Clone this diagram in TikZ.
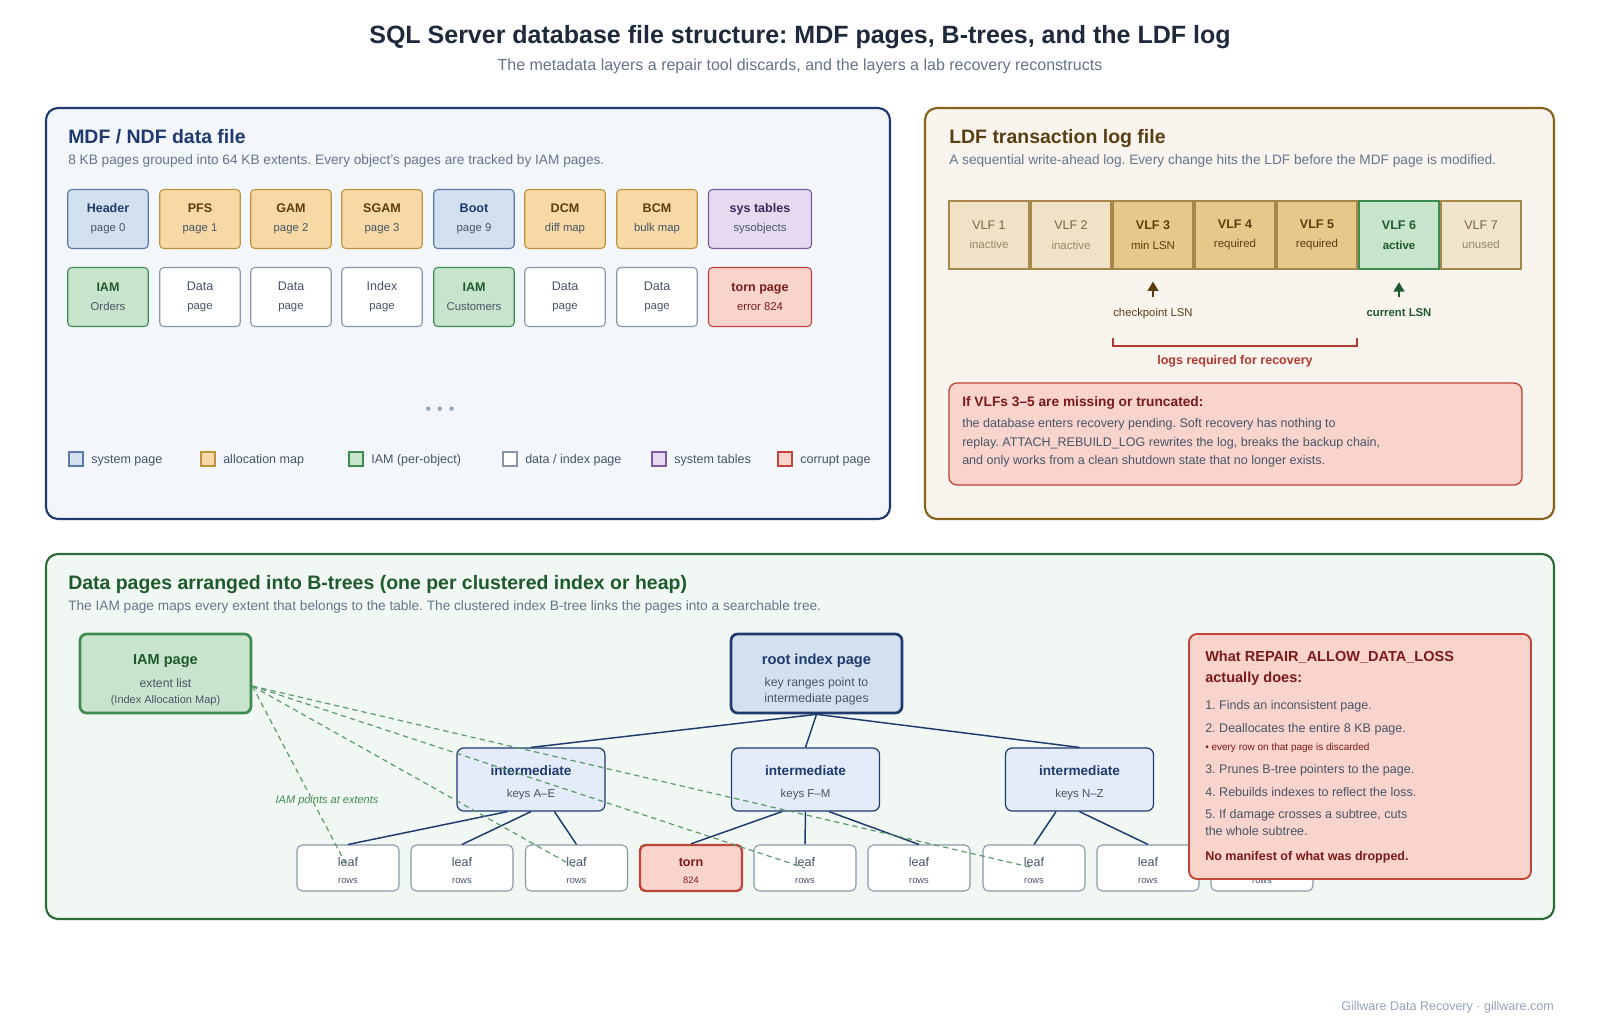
\documentclass[tikz,border=0pt]{standalone}
\usepackage{fontspec}
\setmainfont{Liberation Sans}
\usetikzlibrary{positioning,arrows.meta}
\frenchspacing

\definecolor{ink}{HTML}{1E293B}
\definecolor{muted}{HTML}{64748B}
\definecolor{bodytxt}{HTML}{475569}
\definecolor{navy}{HTML}{1E3A6E}
\definecolor{mdfbg}{HTML}{F3F6FB}
\definecolor{ldfline}{HTML}{85621E}
\definecolor{ldfbg}{HTML}{F9F4EE}
\definecolor{ldfink}{HTML}{5A3E12}
\definecolor{treeline}{HTML}{2E6B3A}
\definecolor{treebg}{HTML}{F1F8F3}
\definecolor{treeink}{HTML}{1E5A2E}
\definecolor{sysfill}{HTML}{D3E0F0}
\definecolor{sysdraw}{HTML}{5A78A8}
\definecolor{allocfill}{HTML}{F6D9A5}
\definecolor{allocdraw}{HTML}{C0923E}
\definecolor{iamfill}{HTML}{C8E4CC}
\definecolor{iamdraw}{HTML}{3F8A50}
\definecolor{datadraw}{HTML}{8A96A8}
\definecolor{tblfill}{HTML}{E6DAF0}
\definecolor{tbldraw}{HTML}{7A5AA0}
\definecolor{tblink}{HTML}{3A2A5A}
\definecolor{badfill}{HTML}{F8D4CC}
\definecolor{baddraw}{HTML}{C0443A}
\definecolor{badink}{HTML}{7A1A1A}
\definecolor{vlfold}{HTML}{EFE2C6}
\definecolor{vlfreq}{HTML}{E5C88A}
\definecolor{vlfnew}{HTML}{F0E5CD}
\definecolor{vlfdraw}{HTML}{A8884A}
\definecolor{vlfmid}{HTML}{7A6440}
\definecolor{vlfgray}{HTML}{9A8866}
\definecolor{midfill}{HTML}{E3ECF8}
\definecolor{dashgreen}{HTML}{5A9A6A}
\definecolor{footgray}{HTML}{94A3B8}
\definecolor{bracketred}{HTML}{B03A30}

\newcommand{\subfont}{\fontsize{8.5}{14.25}\selectfont}
\newcommand{\vlfsub}{\fontsize{8.6}{14.6}\selectfont}
\newcommand{\pgtxt}[2]{\textbf{#1}\\{\subfont\color{bodytxt}#2}}

\tikzset{
	panel/.style={rounded corners=9pt, line width=1.6pt},
	ptitle/.style={anchor=base west, inner sep=0pt, font=\fontsize{14.6}{17}\selectfont\bfseries},
	psub/.style={anchor=base west, inner sep=0pt, text=muted, font=\fontsize{10.25}{12}\selectfont},
	pg/.style={draw, rounded corners=3pt, line width=0.8pt, minimum width=60.4pt, minimum height=44.25pt, inner sep=0pt, align=center, font=\fontsize{9.4}{14.25}\selectfont},
	syspg/.style={pg, fill=sysfill, draw=sysdraw, text=navy},
	allocpg/.style={pg, fill=allocfill, draw=allocdraw, text=ldfink},
	iampg/.style={pg, fill=iamfill, draw=iamdraw, text=treeink},
	datapg/.style={pg, fill=white, draw=datadraw, text=bodytxt},
	tblpg/.style={pg, fill=tblfill, draw=tbldraw, text=tblink, minimum width=77.25pt},
	badpg/.style={pg, fill=badfill, draw=baddraw, text=badink, minimum width=77.25pt},
	swatch/.style={draw, line width=0.8pt, minimum size=10.5pt, inner sep=0pt},
	legtext/.style={anchor=base west, inner sep=0pt, text=bodytxt, font=\fontsize{9.4}{11}\selectfont},
	vlf/.style={draw=vlfdraw, line width=0.8pt, minimum width=60pt, minimum height=51pt, inner sep=0pt, align=center, font=\fontsize{9.4}{14.6}\selectfont},
	lsn/.style={line width=1.5pt, -{Triangle[length=7pt,width=8pt]}},
	note/.style={anchor=base, inner sep=0pt, font=\fontsize{8.5}{10}\selectfont},
	warnbox/.style={draw=baddraw, fill=badfill, rounded corners=6pt, line width=1pt},
	wtext/.style={anchor=base west, inner sep=0pt, text=bodytxt, font=\fontsize{9.4}{11}\selectfont},
	bigbox/.style={rounded corners=5pt, line width=2pt, minimum width=128.25pt, minimum height=59.25pt, inner sep=0pt, align=center, text=bodytxt, font=\fontsize{9.2}{12}\selectfont},
	midbox/.style={draw=navy, fill=midfill, rounded corners=5pt, line width=0.9pt, minimum width=111pt, minimum height=47.25pt, inner sep=0pt, align=center, text=bodytxt, font=\fontsize{8.6}{16.5}\selectfont},
	leafbox/.style={draw=datadraw, fill=white, rounded corners=4pt, line width=0.8pt, minimum width=76.5pt, minimum height=34.5pt, inner sep=0pt, align=center, text=bodytxt, font=\fontsize{9.4}{12.75}\selectfont},
	edge/.style={draw=navy, line width=1.1pt},
	iamlink/.style={draw=dashgreen, line width=0.9pt, dash pattern=on 4pt off 3pt},
}

\begin{document}
\begin{tikzpicture}[x=0.75pt,y=-0.75pt]
	\useasboundingbox (0,0) rectangle (1600,1029);
	\fill[white] (0,0) rectangle (1600,1029);
	% heading
		\node[anchor=base, text=ink, font=\fontsize{18.75}{22}\selectfont\bfseries] (title) at (800,43) {SQL Server database file structure: MDF pages, B-trees, and the LDF log};
		\node[anchor=base, text=muted, font=\fontsize{12}{14}\selectfont] (subtitle) at (800,70) {The metadata layers a repair tool discards, and the layers a lab recovery reconstructs};
	% MDF panel
		\draw[panel, draw=navy, fill=mdfbg] (46,108) rectangle (890,519);
		\node[ptitle, text=navy] (mdftitle) at (68,143) {MDF / NDF data file};
		\node[psub] (mdfsub) at (68,164) {8 KB pages grouped into 64 KB extents. Every object's pages are tracked by IAM pages.};
	% first row of pages
		\node[syspg] (hdr) at (108,219) {\pgtxt{Header}{page 0}};
		\node[allocpg] (pfs) at (200,219) {\pgtxt{PFS}{page 1}};
		\node[allocpg] (gam) at (291,219) {\pgtxt{GAM}{page 2}};
		\node[allocpg] (sgam) at (382,219) {\pgtxt{SGAM}{page 3}};
		\node[syspg] (boot) at (474,219) {\pgtxt{Boot}{page 9}};
		\node[allocpg] (dcm) at (565,219) {\pgtxt{DCM}{diff map}};
		\node[allocpg] (bcm) at (657,219) {\pgtxt{BCM}{bulk map}};
		\node[tblpg] (systbl) at (760,219) {\pgtxt{sys tables}{sysobjects}};
	% second row of pages
		\node[iampg] (iamord) at (108,297) {\pgtxt{IAM}{Orders}};
		\node[datapg] (dpg1) at (200,297) {Data\\{\subfont page}};
		\node[datapg] (dpg2) at (291,297) {Data\\{\subfont page}};
		\node[datapg] (ipg) at (382,297) {Index\\{\subfont page}};
		\node[iampg] (iamcust) at (474,297) {\pgtxt{IAM}{Customers}};
		\node[datapg] (dpg3) at (565,297) {Data\\{\subfont page}};
		\node[datapg] (dpg4) at (657,297) {Data\\{\subfont page}};
		\node[badpg] (tornpg) at (760,297) {\textbf{torn page}\\{\subfont error 824}};
		\node[text=footgray, font=\fontsize{12}{13}\selectfont] (more) at (440,411) {•\hspace{4.5pt}•\hspace{4.5pt}•};
	% legend
		\node[swatch, fill=sysfill, draw=sysdraw] (lg1) at (76,459) {};
		\node[legtext] (lt1) at (91,463.5) {system page};
		\node[swatch, fill=allocfill, draw=allocdraw] (lg2) at (208,459) {};
		\node[legtext] (lt2) at (223,463.5) {allocation map};
		\node[swatch, fill=iamfill, draw=iamdraw] (lg3) at (356,459) {};
		\node[legtext] (lt3) at (371,463.5) {IAM (per-object)};
		\node[swatch, fill=white, draw=datadraw] (lg4) at (510,459) {};
		\node[legtext] (lt4) at (525,463.5) {data / index page};
		\node[swatch, fill=tblfill, draw=tbldraw] (lg5) at (659,459) {};
		\node[legtext] (lt5) at (674,463.5) {system tables};
		\node[swatch, fill=badfill, draw=baddraw] (lg6) at (785,459) {};
		\node[legtext] (lt6) at (800,463.5) {corrupt page};
	% LDF panel
		\draw[panel, draw=ldfline, fill=ldfbg] (925,108) rectangle (1554,519);
		\node[ptitle, text=ldfink] (ldftitle) at (949,143) {LDF transaction log file};
		\node[psub] (ldfsub) at (949,164) {A sequential write-ahead log. Every change hits the LDF before the MDF page is modified.};
	% virtual log files
		\node[vlf, fill=vlfold, text=vlfmid] (v1) at (989,235) {VLF 1\\{\vlfsub\color{vlfgray}inactive}};
		\node[vlf, fill=vlfold, text=vlfmid] (v2) at (1071,235) {VLF 2\\{\vlfsub\color{vlfgray}inactive}};
		\node[vlf, fill=vlfreq, text=ldfink] (v3) at (1153,235) {\textbf{VLF 3}\\{\vlfsub min LSN}};
		\node[vlf, fill=vlfreq, text=ldfink] (v4) at (1235,235) {\textbf{VLF 4}\\{\vlfsub required}};
		\node[vlf, fill=vlfreq, text=ldfink] (v5) at (1317,235) {\textbf{VLF 5}\\{\vlfsub required}};
		\node[vlf, fill=iamfill, draw=iamdraw, line width=1.8pt, text=treeink] (v6) at (1399,235) {\textbf{VLF 6}\\{\vlfsub\bfseries active}};
		\node[vlf, fill=vlfnew, text=vlfmid] (v7) at (1481,235) {VLF 7\\{\vlfsub\color{vlfgray}unused}};
	% LSN markers
		\node[note, text=ldfink] (ckpt) at (1153,316) {checkpoint LSN};
		\node[note, text=treeink, font=\fontsize{8.5}{10}\selectfont\bfseries] (curlsn) at (1399,316) {current LSN};
		\coordinate (ckptfoot) at (1153,297);
		\coordinate (curfoot) at (1399,297);
		\draw[lsn, ldfink] (ckptfoot) -- ([yshift=-9pt]v3.south);
		\draw[lsn, treeink] (curfoot) -- ([yshift=-9pt]v6.south);
	% recovery range
		\draw[bracketred, line width=1.2pt] (1113,338) -- (1113,346) -- (1357,346) -- (1357,338);
		\node[note, text=bracketred, font=\fontsize{9.4}{11}\selectfont\bfseries] (range) at (1235,364) {logs required for recovery};
	% missing log warning
		\draw[warnbox] (949,383) rectangle (1522,485);
		\node[wtext, text=badink, font=\fontsize{10.3}{12}\selectfont\bfseries] (warnhead) at (962,406) {If VLFs 3--5 are missing or truncated:};
		\node[wtext] (warn1) at (962,427.5) {the database enters recovery pending. Soft recovery has nothing to};
		\node[wtext] (warn2) at (962,446) {replay. ATTACH\_REBUILD\_LOG rewrites the log, breaks the backup chain,};
		\node[wtext] (warn3) at (962,464) {and only works from a clean shutdown state that no longer exists.};
	% B-tree panel
		\draw[panel, draw=treeline, fill=treebg] (46,554) rectangle (1554,919);
		\node[ptitle, text=treeink] (treetitle) at (68,589) {Data pages arranged into B-trees (one per clustered index or heap)};
		\node[psub] (treesub) at (68,610) {The IAM page maps every extent that belongs to the table. The clustered index B-tree links the pages into a searchable tree.};
	% IAM page and root
		\node[bigbox, draw=iamdraw, fill=iamfill] (iampage) at (165.5,673.5) {{\fontsize{10.9}{12}\selectfont\bfseries\color{treeink}\rule{0pt}{17pt}IAM page}\\[5pt]extent list\\{\fontsize{8.25}{12}\selectfont(Index Allocation Map)}};
		\node[bigbox, draw=navy, fill=sysfill] (root) at (816.5,673.5) {{\fontsize{11}{12}\selectfont\bfseries\color{navy}\rule{0pt}{17pt}root index page}\\[5pt]key ranges point to\\intermediate pages};
	% intermediate level
		\node[midbox] (ae) at (531,779.5) {{\fontsize{10.2}{16.5}\selectfont\bfseries\color{navy}\rule{0pt}{12pt}intermediate}\\keys A--E};
		\node[midbox] (fm) at (805.5,779.5) {{\fontsize{10.2}{16.5}\selectfont\bfseries\color{navy}\rule{0pt}{12pt}intermediate}\\keys F--M};
		\node[midbox] (nz) at (1079.5,779.5) {{\fontsize{10.2}{16.5}\selectfont\bfseries\color{navy}\rule{0pt}{12pt}intermediate}\\keys N--Z};
	% leaf level
		\foreach \i/\x in {1/348,2/462,3/576.5,5/805,6/919,7/1034,8/1148,9/1262}
			\node[leafbox] (l\i) at (\x,868) {\rule{0pt}{10pt}leaf\\{\fontsize{7}{12.75}\selectfont rows}};
		\node[leafbox, fill=badfill, draw=baddraw, line width=1.8pt, text=badink] (l4) at (691,868) {\rule{0pt}{10pt}\textbf{torn}\\{\fontsize{7}{12.75}\selectfont 824}};
	% tree links
		\draw[edge] (root.south) -- (ae.north);
		\draw[edge] (root.south) -- (fm.north);
		\draw[edge] (root.south) -- (nz.north);
		\draw[edge] ([xshift=-17.6pt]ae.south) -- (l1.north);
		\draw[edge] (ae.south) -- (l2.north);
		\draw[edge] ([xshift=17.6pt]ae.south) -- (l3.north);
		\draw[edge] ([xshift=-17.6pt]fm.south) -- (l4.north);
		\draw[edge] (fm.south) -- (l5.north);
		\draw[edge] ([xshift=17.6pt]fm.south) -- (l6.north);
		\draw[edge] ([xshift=-17.6pt]nz.south) -- (l7.north);
		\draw[edge] (nz.south) -- (l8.north);
	% IAM pointers
		\draw[iamlink] ([yshift=-9.4pt]iampage.east) -- (l1.center);
		\draw[iamlink] ([yshift=-9.4pt]iampage.east) -- (l3.center);
		\draw[iamlink] ([yshift=-9.4pt]iampage.east) -- (l5.center);
		\draw[iamlink] ([yshift=-9.4pt]iampage.east) -- (l7.center);
		\node[text=iamdraw, font=\fontsize{8.25}{10}\selectfont\itshape] (iamnote) at (327,801) {IAM points at extents};
	% what repair does
		\draw[warnbox, line width=1.4pt] (1189,634) rectangle (1531,879);
		\node[wtext, text=badink, font=\fontsize{10.9}{12}\selectfont\bfseries] (rhead1) at (1205,661) {What REPAIR\_ALLOW\_DATA\_LOSS};
		\node[wtext, text=badink, font=\fontsize{10.9}{12}\selectfont\bfseries] (rhead2) at (1205,682) {actually does:};
		\node[wtext] (r1) at (1205,709) {1. Finds an inconsistent page.};
		\node[wtext] (r2) at (1205,732) {2. Deallocates the entire 8 KB page.};
		\node[wtext, text=badink, font=\fontsize{7.5}{9}\selectfont] (r2b) at (1205,750) {• every row on that page is discarded};
		\node[wtext] (r3) at (1205,773) {3. Prunes B-tree pointers to the page.};
		\node[wtext] (r4) at (1205,796) {4. Rebuilds indexes to reflect the loss.};
		\node[wtext] (r5) at (1205,818) {5. If damage crosses a subtree, cuts};
		\node[wtext] (r5b) at (1205,835) {the whole subtree.};
		\node[wtext, text=badink, font=\fontsize{9.4}{11}\selectfont\bfseries] (rlast) at (1205,860) {No manifest of what was dropped.};
	% footer
		\node[anchor=base east, inner sep=0pt, text=footgray, font=\fontsize{9.4}{11}\selectfont] (credit) at (1554,1010) {Gillware Data Recovery · gillware.com};
\end{tikzpicture}
\end{document}
